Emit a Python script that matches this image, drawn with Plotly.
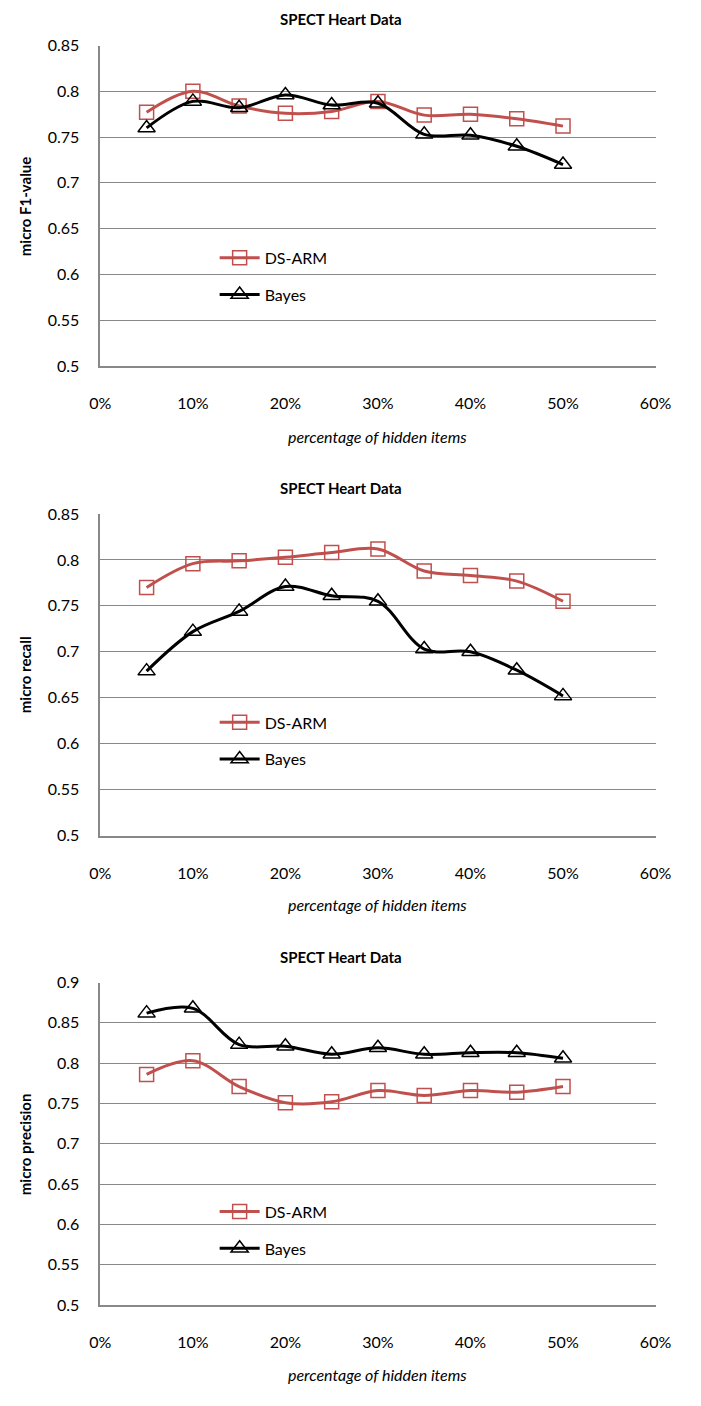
import plotly.graph_objects as go

pct = [0.05, 0.10, 0.15, 0.20, 0.25, 0.30, 0.35, 0.40, 0.45, 0.50]

f1_dsarm = [0.777, 0.800, 0.784, 0.776, 0.778, 0.789, 0.774, 0.775, 0.770, 0.762]
f1_bayes = [0.760, 0.789, 0.782, 0.796, 0.785, 0.787, 0.753, 0.752, 0.740, 0.720]

rec_dsarm = [0.770, 0.796, 0.799, 0.803, 0.808, 0.812, 0.788, 0.783, 0.777, 0.755]
rec_bayes = [0.679, 0.722, 0.744, 0.771, 0.761, 0.755, 0.703, 0.700, 0.680, 0.652]

prec_dsarm = [0.786, 0.803, 0.771, 0.751, 0.752, 0.766, 0.760, 0.766, 0.764, 0.771]
prec_bayes = [0.862, 0.868, 0.823, 0.821, 0.811, 0.819, 0.811, 0.813, 0.813, 0.806]

title_text = "SPECT Heart Data"
x_title = "percentage of hidden items"
y_titles = ["micro F1-value", "micro recall", "micro precision"]
y_ranges = [[0.5, 0.85], [0.5, 0.85], [0.5, 0.9]]
series_names = ["DS-ARM", "Bayes"]

# page is 701x1406; the page body keeps its default 8px margin
OFF = 8
W, H = 701 - 2 * OFF, 1406 - 2 * OFF
FONT = "Lato, Open Sans, sans-serif"
RED = "#C0504D"
GRID = "#888888"


def px(x):
    return (x - OFF) / W


def py(y):
    return 1 - (y - OFF) / H


# page-pixel geometry
boxes = [(44, 369), (519, 845), (994, 1321)]
title_y = [17, 493, 968]
xtitle_y = [440, 915, 1391]
legend_top = [242, 713, 1209]
x_left, x_right = 101, 679

fig = go.Figure()
data = [(f1_dsarm, f1_bayes), (rec_dsarm, rec_bayes), (prec_dsarm, prec_bayes)]

for i, (ds, by) in enumerate(data):
    n = "" if i == 0 else str(i + 1)
    leg = "legend" + n
    fig.add_trace(go.Scatter(
        x=pct, y=ds, name=series_names[0], mode="lines+markers",
        line=dict(color=RED, width=3, shape="spline"),
        marker=dict(symbol="square-open", size=14, color=RED, line=dict(width=1.5, color=RED)),
        xaxis="x" + n, yaxis="y" + n, legend=leg, legendgroup="a" + n))
    fig.add_trace(go.Scatter(
        x=pct, y=by, name=series_names[1], mode="lines+markers",
        line=dict(color="black", width=3, shape="spline"),
        marker=dict(symbol="triangle-up-open", size=15, color="black", line=dict(width=1.5, color="black")),
        xaxis="x" + n, yaxis="y" + n, legend=leg, legendgroup="b" + n))

layout = dict(
    width=W, height=H, margin=dict(l=0, r=0, t=0, b=0), autosize=False,
    paper_bgcolor="white", plot_bgcolor="white",
    font=dict(family=FONT, size=16, color="black"),
    showlegend=True,
)
annotations = []
for i, (top, bot) in enumerate(boxes):
    n = "" if i == 0 else str(i + 1)
    layout["xaxis" + n] = dict(
        domain=[px(x_left), px(x_right)], range=[0, 0.6], dtick=0.1, tick0=0,
        tickformat=".0%", showgrid=False, showline=True, linecolor=GRID, linewidth=1.5,
        ticks="", zeroline=False, anchor="y" + n, ticklabelstandoff=22,
        tickfont=dict(size=16), ticklabeloverflow="allow",
    )
    layout["yaxis" + n] = dict(
        domain=[py(bot), py(top)], range=y_ranges[i], dtick=0.05, tick0=0.5,
        showgrid=True, gridcolor=GRID, gridwidth=1.2, showline=True, linecolor=GRID,
        linewidth=1.5, ticks="", zeroline=False, anchor="x" + n, ticklabelstandoff=16,
        tickfont=dict(size=16),
    )
    layout["legend" + n] = dict(
        x=px(220), y=py(legend_top[i]), xanchor="left", yanchor="top",
        bgcolor="rgba(0,0,0,0)", font=dict(size=16), tracegroupgap=13,
        traceorder="grouped", itemwidth=40,
    )
    annotations.append(dict(text="<b>" + title_text + "</b>", x=px(352), y=py(title_y[i]),
                            xref="paper", yref="paper", showarrow=False, font=dict(size=15),
                            xanchor="center", yanchor="middle"))
    annotations.append(dict(text="<i>" + x_title + "</i>", x=px((x_left + x_right) / 2),
                            y=py(xtitle_y[i]), xref="paper", yref="paper", showarrow=False,
                            font=dict(size=16), xanchor="center", yanchor="middle"))
    annotations.append(dict(text="<b>" + y_titles[i] + "</b>", x=px(22),
                            y=py((top + bot) / 2), xref="paper", yref="paper", showarrow=False,
                            textangle=-90, font=dict(size=15), xanchor="center", yanchor="middle"))
layout["annotations"] = annotations
fig.update_layout(**layout)

fig.write_html("out.html", config={"displayModeBar": False})
